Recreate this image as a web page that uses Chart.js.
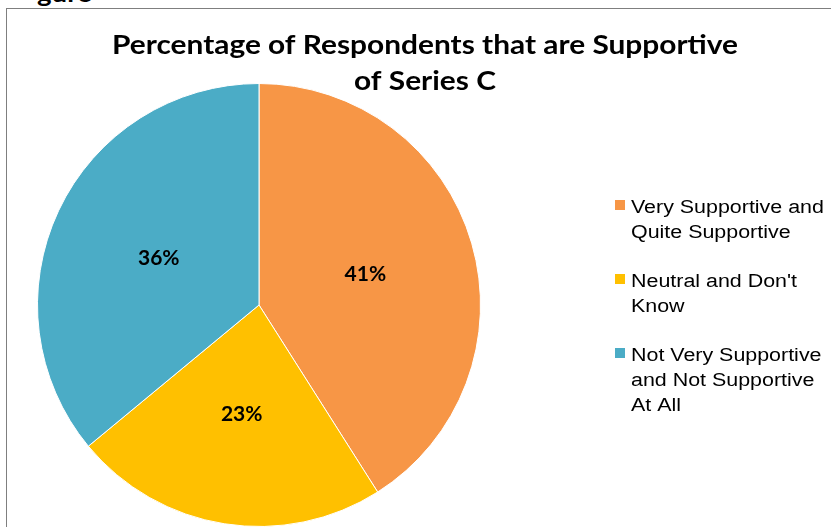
<!DOCTYPE html>
<html>
<head>
<meta charset="utf-8">
<script src="https://cdn.jsdelivr.net/npm/chart.js@4.4.1/dist/chart.umd.min.js"></script>
<style>
  html, body { margin: 0; padding: 0; background: #fff; overflow: hidden; }
  #wrap { position: relative; width: 831px; height: 527px; overflow: hidden; }
  #frame { position: absolute; left: 6px; top: 8px; width: 840px; height: 540px;
           border-left: 1px solid #7f7f7f; border-top: 1px solid #7f7f7f; }
  #fig { position: absolute; left: 37px; top: -22px; font: bold 24px Lato, sans-serif; color: #000;
         transform: scaleX(1.15); transform-origin: left top; }
  #box { position: absolute; left: 0; top: 0; width: 831px; height: 540px; }
</style>
</head>
<body>
<div id="wrap">
  <div id="fig">gure</div>
  <div id="frame"></div>
  <div id="box"><canvas id="myChart" width="831" height="540"></canvas></div>
</div>
<script>
const categories = [
  ['Very Supportive and', 'Quite Supportive'],
  ['Neutral and Don\'t', 'Know'],
  ['Not Very Supportive', 'and Not Supportive', 'At All']
];
const percentages = [41, 23, 36];
const sliceColors = ['#F79646', '#FFC000', '#4BACC6'];
const titleLines = ['Percentage of Respondents that are Supportive', 'of Series C'];

const chartCanvas = document.getElementById('myChart');

// the source picture is a little wider than tall, so text gets a horizontal stretch
function wideText(ctx, text, x, y, sx) {
  ctx.save();
  ctx.translate(x, y);
  ctx.scale(sx, 1);
  ctx.fillText(text, 0, 0);
  ctx.restore();
}

// title, slice labels and the wrapped legend are drawn here
const extras = {
  id: 'extras',
  afterDraw(chart) {
    const ctx = chart.ctx;
    ctx.save();
    ctx.fillStyle = '#000';
    ctx.textBaseline = 'alphabetic';

    // title
    ctx.font = 'bold 26px Lato, sans-serif';
    ctx.textAlign = 'center';
    const tw = ctx.measureText(titleLines[0]).width;
    const sx = 626 / tw;
    wideText(ctx, titleLines[0], 425, 54, sx);
    wideText(ctx, titleLines[1], 425, 90, sx);

    // percentages in the slices
    const meta = chart.getDatasetMeta(0);
    ctx.font = 'bold 21px Lato, sans-serif';
    ctx.textBaseline = 'middle';
    meta.data.forEach(function(arc, i) {
      const p = arc.tooltipPosition();
      ctx.fillText(percentages[i] + '%', p.x, p.y);
    });

    // legend
    ctx.font = '18px "Liberation Sans", Arial, sans-serif';
    ctx.textAlign = 'left';
    ctx.textBaseline = 'alphabetic';
    let y = 213;
    categories.forEach(function(lines, i) {
      ctx.fillStyle = sliceColors[i];
      ctx.fillRect(615, y - 13, 10, 10);
      ctx.fillStyle = '#000';
      lines.forEach(function(t, k) {
        wideText(ctx, t, 631, y + k * 25, 1.19);
      });
      y += lines.length * 25 + 24;
    });
    ctx.restore();
  }
};

const myChart = new Chart(chartCanvas.getContext('2d'), {
  type: 'pie',
  data: {
    labels: categories.map(function(l) { return l.join(' '); }),
    datasets: [{
      data: percentages,
      backgroundColor: sliceColors,
      borderColor: '#fff',
      borderWidth: 1,
      hoverOffset: 0
    }]
  },
  options: {
    responsive: false,
    animation: false,
    layout: { padding: { left: 37, right: 350, top: 83, bottom: 13 } },
    plugins: {
      legend: { display: false },
      title: { display: false },
      tooltip: { enabled: false }
    }
  },
  plugins: [extras]
});
</script>
</body>
</html>
